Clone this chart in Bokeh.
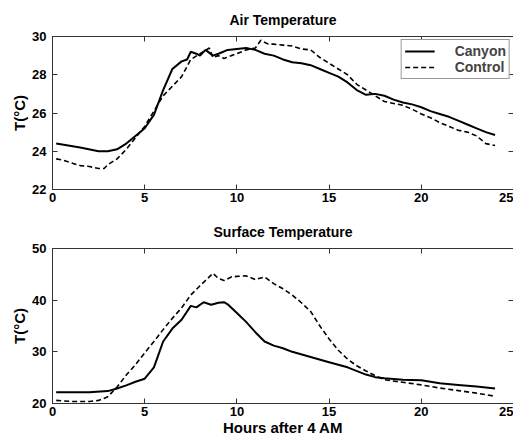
from bokeh.plotting import figure
from bokeh.layouts import column
from bokeh.models import LinearAxis, FixedTicker, Range1d, Legend, LegendItem, Title
from bokeh.embed import file_html
from bokeh.resources import INLINE

# Air temperature
air_canyon_x = [0.2, 1.5, 2.5, 3.0, 3.5, 4.0, 4.5, 5.0, 5.5, 6.0, 6.5, 7.0, 7.3, 7.5, 7.8, 8.0, 8.3, 8.7, 9.0, 9.5, 10.0, 10.5, 11.0, 11.5, 12.0, 12.5, 13.0, 13.5, 14.0, 14.5, 15.0, 15.5, 16.0, 16.5, 17.0, 17.5, 18.0, 18.5, 19.0, 19.5, 20.0, 20.5, 21.0, 21.5, 22.0, 22.5, 23.0, 23.5, 24.0]
air_canyon_y = [24.4, 24.2, 24.0, 24.0, 24.1, 24.4, 24.8, 25.2, 25.9, 27.2, 28.3, 28.7, 28.8, 29.2, 29.1, 29.0, 29.3, 29.0, 29.1, 29.3, 29.35, 29.4, 29.3, 29.1, 29.0, 28.8, 28.65, 28.6, 28.5, 28.3, 28.1, 27.9, 27.6, 27.2, 26.95, 27.0, 26.9, 26.7, 26.55, 26.45, 26.3, 26.1, 25.95, 25.8, 25.6, 25.4, 25.2, 25.0, 24.85]
air_control_x = [0.2, 0.5, 1.0, 1.5, 2.0, 2.5, 2.8, 3.0, 3.5, 4.0, 4.5, 5.0, 5.5, 6.0, 6.5, 7.0, 7.5, 8.0, 8.5, 8.7, 9.0, 9.3, 9.7, 10.0, 10.5, 11.0, 11.3, 11.7, 12.0, 12.5, 13.0, 13.5, 14.0, 14.5, 15.0, 15.5, 16.0, 16.5, 17.0, 17.5, 18.0, 18.5, 19.0, 19.5, 20.0, 20.5, 21.0, 21.5, 22.0, 22.5, 23.0, 23.5, 24.0]
air_control_y = [23.6, 23.55, 23.4, 23.25, 23.2, 23.1, 23.1, 23.3, 23.6, 24.1, 24.7, 25.3, 26.1, 26.9, 27.4, 27.9, 28.8, 29.1, 29.4, 28.9, 29.0, 28.85, 29.0, 29.1, 29.3, 29.4, 29.8, 29.6, 29.6, 29.55, 29.5, 29.35, 29.3, 28.9, 28.6, 28.3, 28.0, 27.5, 27.2, 26.9, 26.6, 26.5, 26.4, 26.2, 25.95, 25.75, 25.5, 25.3, 25.1, 25.0, 24.8, 24.4, 24.3]

# Surface temperature
srf_canyon_x = [0.2, 2.0, 3.0, 3.5, 4.0, 4.5, 5.0, 5.5, 6.0, 6.5, 7.0, 7.5, 7.8, 8.2, 8.6, 9.0, 9.3, 9.5, 10.0, 10.5, 11.0, 11.5, 12.0, 12.5, 13.0, 14.0, 15.0, 16.0, 17.0, 17.5, 18.0, 19.0, 20.0, 20.5, 21.0, 22.0, 23.0, 24.0]
srf_canyon_y = [22.2, 22.2, 22.4, 22.9, 23.5, 24.2, 24.8, 27.0, 32.0, 34.5, 36.2, 38.9, 38.6, 39.6, 39.1, 39.5, 39.6, 39.2, 37.5, 35.8, 33.8, 32.0, 31.2, 30.7, 30.0, 29.0, 28.0, 27.0, 25.6, 25.1, 24.9, 24.6, 24.5, 24.2, 23.9, 23.6, 23.3, 22.9]
srf_control_x = [0.2, 1.0, 2.0, 2.5, 3.0, 3.5, 4.0, 4.5, 5.0, 5.5, 6.0, 6.5, 7.0, 7.5, 8.0, 8.5, 8.7, 9.0, 9.3, 9.7, 10.0, 10.5, 11.0, 11.5, 12.0, 12.5, 13.0, 13.5, 14.0, 14.5, 15.0, 15.5, 16.0, 16.5, 17.0, 17.5, 18.0, 19.0, 20.0, 21.0, 22.0, 23.0, 24.0]
srf_control_y = [20.6, 20.4, 20.4, 20.6, 21.3, 23.2, 25.5, 27.5, 29.8, 32.0, 34.3, 36.5, 38.5, 41.0, 42.8, 44.5, 45.2, 44.2, 43.8, 44.5, 44.6, 44.7, 44.0, 44.5, 43.2, 42.2, 41.0, 39.5, 37.8, 35.0, 32.5, 30.3, 28.6, 27.3, 26.3, 25.4, 24.6, 24.1, 23.6, 23.0, 22.5, 22.0, 21.4]

x_ticks = [0, 5, 10, 15, 20, 25]
air_ticks = [22, 24, 26, 28, 30]
srf_ticks = [20, 30, 40, 50]

FONT = "Liberation Sans"


def style_axis(ax, ticks, labels=True):
    ax.ticker = FixedTicker(ticks=ticks)
    ax.minor_tick_line_color = None
    ax.major_tick_in = 5
    ax.major_tick_out = 0
    ax.axis_line_color = "#333333"
    ax.major_tick_line_color = "#333333"
    ax.major_label_text_font = FONT
    ax.major_label_text_font_style = "bold"
    ax.major_label_text_font_size = "13px"
    ax.major_label_text_color = "black"
    ax.axis_label_text_font = FONT
    ax.axis_label_text_font_style = "bold"
    ax.axis_label_text_font_size = "15px"
    ax.axis_label_text_color = "black"
    ax.major_label_standoff = 3
    if not labels:
        ax.major_label_overrides = {t: "" for t in ticks}
        ax.major_label_standoff = 0


def make_fig(title, ymin, ymax, yticks, fh, top, bottom, tstand, xlabel=None):
    p = figure(frame_width=461, frame_height=fh, output_backend="svg", toolbar_location=None,
               x_range=Range1d(0, 25), y_range=Range1d(ymin, ymax),
               min_border_left=52, min_border_right=0,
               min_border_top=top, min_border_bottom=bottom)
    p.title = Title(text=title, align="center", text_font=FONT, standoff=tstand,
                    text_font_style="bold", text_font_size="14px", text_color="black")
    p.xgrid.visible = False
    p.ygrid.visible = False
    p.outline_line_color = None
    p.background_fill_color = "white"
    p.border_fill_color = "white"
    style_axis(p.xaxis[0], x_ticks)
    style_axis(p.yaxis[0], yticks)
    p.yaxis[0].axis_label = "T(°C)"
    p.yaxis[0].axis_label_standoff = 1
    p.yaxis[0].major_label_standoff = 6
    if xlabel:
        p.xaxis[0].axis_label = xlabel
        p.xaxis[0].axis_label_standoff = 0
    ra = LinearAxis()
    style_axis(ra, yticks, labels=False)
    p.add_layout(ra, "right")
    ta = LinearAxis()
    style_axis(ta, x_ticks, labels=False)
    p.add_layout(ta, "above")
    return p


p1 = make_fig("Air Temperature", 22, 30, air_ticks, 153, 36, 22, 17)
r1 = p1.line(air_canyon_x, air_canyon_y, line_color="black", line_width=2)
r2 = p1.line(air_control_x, air_control_y, line_color="black", line_width=1.6, line_dash="5 3")
leg = Legend(items=[LegendItem(label="Canyon", renderers=[r1]),
                    LegendItem(label="Control", renderers=[r2])],
             location="top_right", margin=3, padding=3, spacing=0,
             glyph_width=30, glyph_height=16, label_standoff=20,
             label_text_font=FONT, label_text_font_style="bold",
             label_text_font_size="14px", label_height=16,
             border_line_color="#333333", background_fill_alpha=1)
p1.add_layout(leg)

p2 = make_fig("Surface Temperature", 20, 50, srf_ticks, 155, 37, 38, 18, xlabel="Hours after 4 AM")
p2.line(srf_canyon_x, srf_canyon_y, line_color="black", line_width=2)
p2.line(srf_control_x, srf_control_y, line_color="black", line_width=1.6, line_dash="5 3")

layout = column(p1, p2, spacing=0)
open("out.html", "w").write(file_html(layout, INLINE))
